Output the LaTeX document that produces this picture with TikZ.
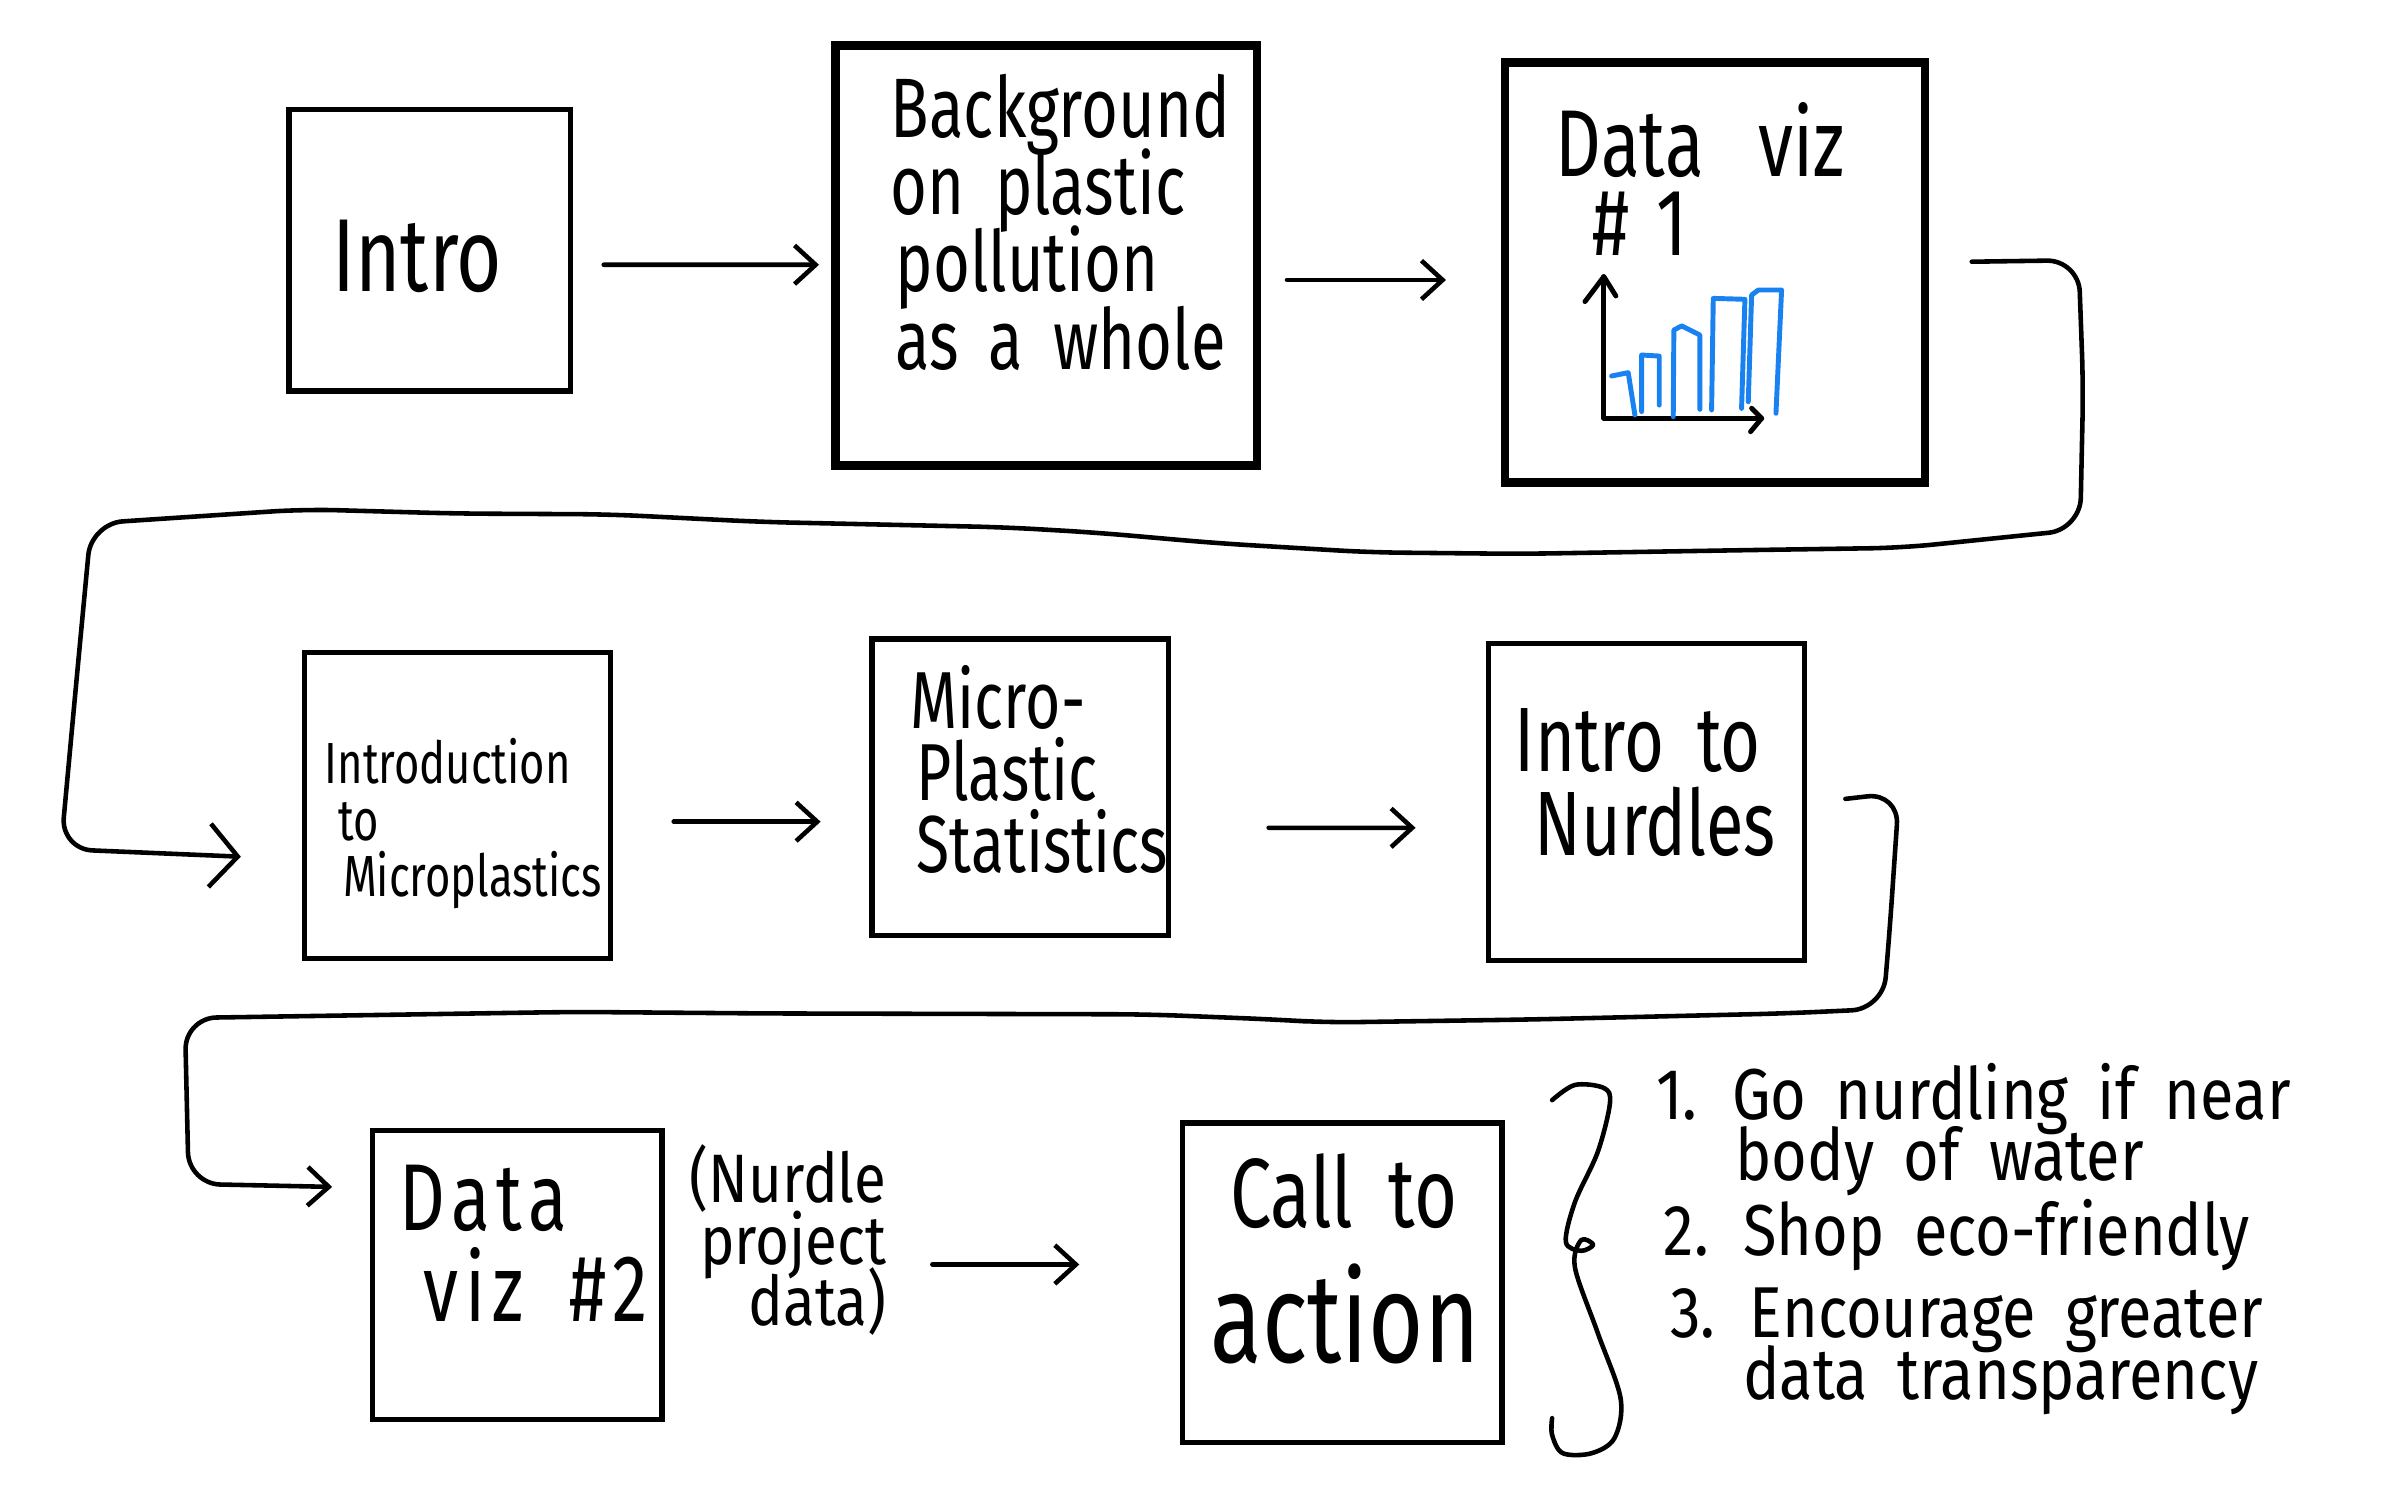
\documentclass[tikz,border=0pt]{standalone}
\usepackage{fontspec}
\usetikzlibrary{arrows.meta}
\newfontfamily\hand{Fira Sans}[FakeStretch=0.75, WordSpace=1.8]
\newfontfamily\handw{Fira Sans}[FakeStretch=0.85, WordSpace=1.8]
\newlength{\pxu}\setlength{\pxu}{0.015217cm}
\definecolor{chartblue}{RGB}{25,130,240}
\newcommand{\fs}[2]{\fontsize{#1pt}{#2pt}\selectfont\lineskiplimit=-100pt\relax}
\begin{document}
\begin{tikzpicture}[x=0.015217cm, y=-0.015217cm,
  box/.style={draw, rectangle, line width=1.5pt, inner sep=0pt},
  thickbox/.style={box, line width=2.4pt},
  arr/.style={line width=1.3pt, line cap=round, line join=round,
    -{Straight Barb[length=6pt,width=11pt]}},
  bigarr/.style={line width=1.3pt, line cap=round, line join=round,
    -{Straight Barb[length=8pt,width=18pt]}},
  lbl/.style={inner sep=0pt, font=\hand, align=left},
  chart/.style={line width=1.4pt, line cap=round, line join=round},
  bar/.style={chart, draw=chartblue}
]
\fill[white] (0,0) rectangle (1568,980);
\useasboundingbox (0,0) rectangle (1568,980);

% boxes
\node[box, minimum width=185\pxu, minimum height=185\pxu] (intro) at (282.5,164.5) {};
\node[thickbox, minimum width=277\pxu, minimum height=276\pxu] (bg) at (687.5,168) {};
\node[thickbox, minimum width=276\pxu, minimum height=276\pxu] (dv1) at (1127,179) {};
\node[box, minimum width=201\pxu, minimum height=201\pxu] (mi) at (300.5,529.5) {};
\node[box, minimum width=195\pxu, minimum height=195\pxu] (ms) at (670.5,517.5) {};
\node[box, minimum width=208\pxu, minimum height=208\pxu] (nu) at (1082,527) {};
\node[box, minimum width=190\pxu, minimum height=190\pxu] (dv2) at (340,838) {};
\node[box, minimum width=210\pxu, minimum height=210\pxu] (cta) at (882,843) {};

% texts
\node[lbl, anchor=north west, font=\hand\fs{29.5}{29.5}] (tIntro) at (218,144) {Intro};
\node[lbl, anchor=north west, font=\hand\fs{24}{22}] (tBg) at (585,48)
  {Background\\on plastic\\\hspace*{3\pxu}pollution\\\hspace*{3\pxu}as a whole};
\node[lbl, anchor=north west, font=\hand\fs{27}{22.5}] (tDv1) at (1022,67)
  {Data\hspace{36\pxu}viz\\\hspace*{24\pxu}\#\hspace{18\pxu}1};
\node[lbl, anchor=north west, font=\hand\fs{16.5}{16}] (tMi) at (213,485)
  {Introduction\\\hspace*{9\pxu}to\\\hspace*{12\pxu}Microplastics};
\node[lbl, anchor=north west, font=\hand\fs{23}{20.5}] (tMs) at (598,437)
  {Micro-\\\hspace*{4\pxu}Plastic\\\hspace*{4\pxu}Statistics};
\node[lbl, anchor=north west, font=\hand\fs{26}{24}] (tNu) at (995,465)
  {Intro to\\\hspace*{13\pxu}Nurdles};
\node[lbl, anchor=north west, font=\hand\fs{27}{26}\addfontfeature{LetterSpace=7}] (tDv2) at (262,765)
  {Data\\\hspace*{16\pxu}viz \#2};
\node[lbl, anchor=north east, align=right, font=\handw\fs{19.5}{17.5}] (tNd) at (583,752)
  {(Nurdle\\project\\data)};
\node[lbl, anchor=north, font=\hand\fs{28}{28}] (tCta1) at (883,758) {Call to};
\node[lbl, anchor=north, font=\hand\fs{36}{36}] (tCta2) at (884,830) {action};
\node[lbl, anchor=north west, font=\handw\fs{20.5}{17.5}] (tL1) at (1088,698)
  {1. Go nurdling if near\\\hspace*{52\pxu}body of water};
\node[lbl, anchor=north west, font=\handw\fs{20.5}{17.5}] (tL2) at (1093,788)
  {2. Shop eco-friendly};
\node[lbl, anchor=north west, font=\handw\fs{20.5}{17.5}] (tL3) at (1097,846)
  {3. Encourage greater\\\hspace*{48\pxu}data transparency};

% chart in data viz #1
\draw[chart] (1041.6,198.2) -- (1054,181.8) -- (1061.9,194.5);
\draw[chart] (1054,181.8) -- (1054,274.9) -- (1157.7,274.9);
\draw[chart] (1151.1,268.3) -- (1157.7,274.9) -- (1150.4,283.7);
\draw[bar] (1059.1,247.1) -- (1070.0,244.9) -- (1074.4,272.7);
\draw[bar] (1078.8,270.5) -- (1078.8,233.3) -- (1090.4,234.0) -- (1090.4,266.2);
\draw[bar] (1099.6,273.8) -- (1100.0,216.9) -- (1105.1,214.2) -- (1117.1,220.2) -- (1117.1,269.0);
\draw[bar] (1124.8,269.4) -- (1125.9,196.1) -- (1146.7,196.7) -- (1144.5,268.4);
\draw[bar] (1148.9,264.0) -- (1151.1,193.9) -- (1155.5,190.6) -- (1170.8,190.6) -- (1167.1,271.6);

% connectors
\draw[arr] ([shift={(20,9.5)}]intro.east) -- ([shift={(-8,6)}]bg.west);
\draw[arr] ([shift={(17,16)}]bg.east) -- ([shift={(-36,5)}]dv1.west);
\draw[bigarr, rounded corners=9] ([shift={(28,-7)}]dv1.east) -- (1366,171)
  -- (1369,254) -- (1367,348) -- (1250,360) -- (1150,361.5)
  -- (1000,364) -- (900,363) -- (800,357) -- (720,350) -- (660,346.5) -- (500,343)
  -- (400,338) -- (300,337.5) -- (200,334.7) -- (60,344)
  -- (50,450) -- (40,558) -- ([shift={(-40,33.5)}]mi.west);
\draw[arr] ([shift={(40,10.5)}]mi.east) -- ([shift={(-32,22.5)}]ms.west);
\draw[arr] ([shift={(64,26.5)}]ms.east) -- ([shift={(-46,17)}]nu.west);
\draw[arr, rounded corners=9] ([shift={(25,-2)}]nu.east) -- (1248,521)
  -- (1242,609) -- (1237.5,663) -- (1173,666) -- (1005,670) -- (871,672) -- (838,670)
  -- (754,666.6) -- (503,666) -- (377,665) -- (121.5,669)
  -- (124,778) -- ([shift={(-25,-58)}]dv2.west);
\draw[arr] ([shift={(176,-7)}]dv2.east) -- ([shift={(-66,-12)}]cta.west);

% brace
\draw[line width=1.3pt, line cap=round, line join=round] plot[smooth, tension=0.55] coordinates
  {(1020,723) (1035,713) (1054,715) (1058,725) (1050,757) (1035,790) (1029,816)
   (1039,822) (1047,818) (1039,815) (1035,833) (1050,876) (1065,919) (1061,945)
   (1046,955) (1027,955) (1020,943) (1020,932)};
\end{tikzpicture}
\end{document}
